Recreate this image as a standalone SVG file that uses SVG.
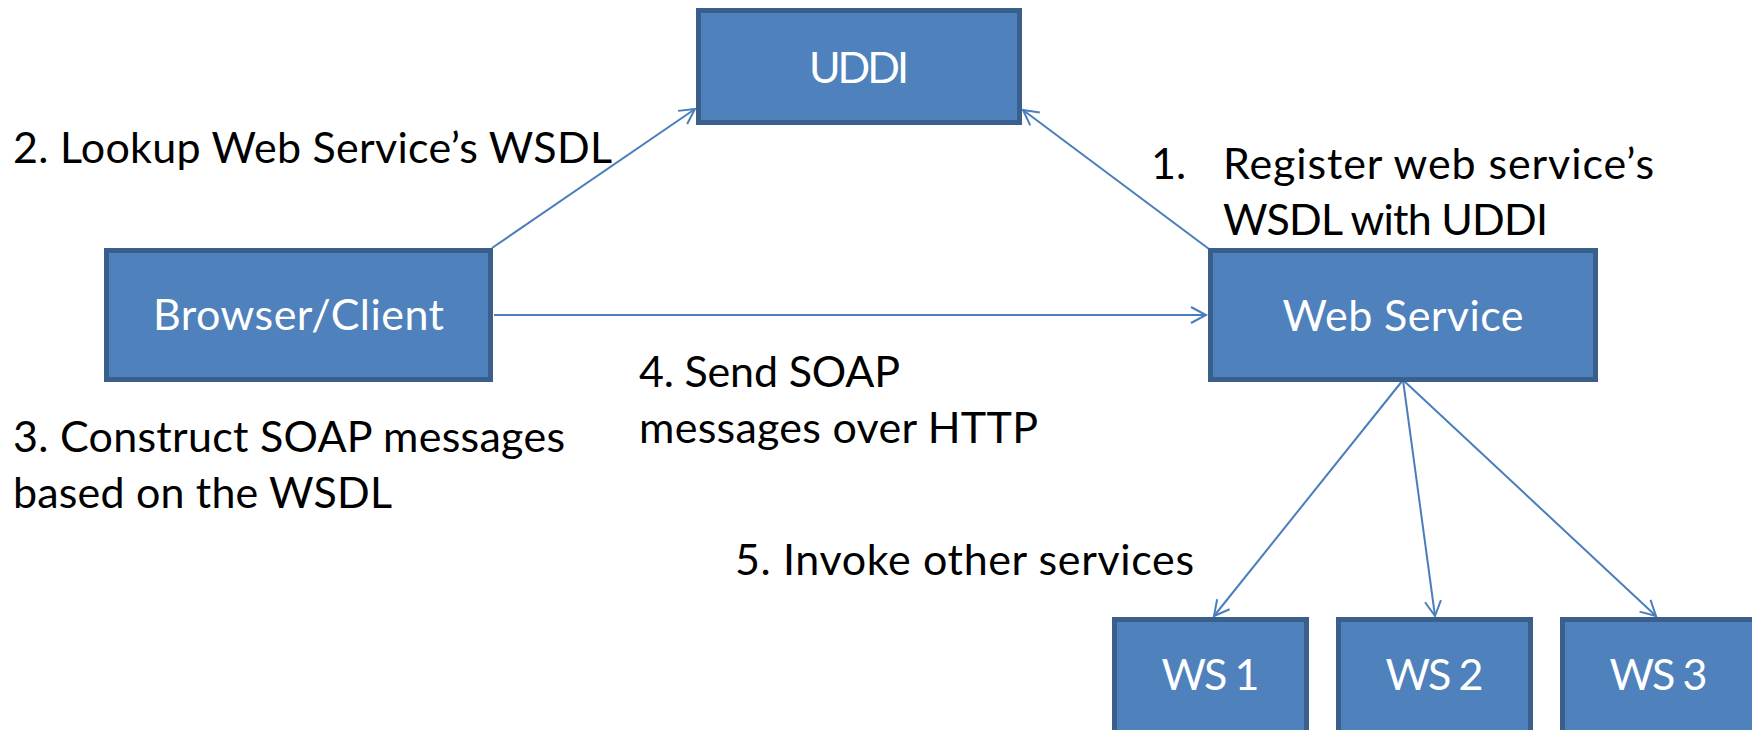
<svg xmlns="http://www.w3.org/2000/svg" width="1752" height="730" viewBox="0 0 1752 730">
  <style>
    .box { fill: #4F81BD; stroke: #3A5F8C; stroke-width: 5; }
    .nlabel { font-family: "Lato", "Liberation Sans", sans-serif; font-size: 43px; fill: #FFFFFF; text-anchor: middle; }
    .label { font-family: "Lato", "Liberation Sans", sans-serif; font-size: 43px; fill: #000000; }
    .link { fill: none; stroke: #4A7EBB; stroke-width: 2; }
  </style>
  <defs>
    <marker id="arrow" markerUnits="userSpaceOnUse" viewBox="-20 -20 40 40" markerWidth="40" markerHeight="40" refX="0" refY="0" orient="auto">
      <path d="M-15,-8 L0,0 L-15,8" fill="none" stroke="#4A7EBB" stroke-width="2"/>
    </marker>
  </defs>

  <rect width="1752" height="730" fill="#FFFFFF"/>

  <!-- connectors -->
  <g id="connectors">
    <line class="link" x1="492" y1="248" x2="695" y2="109" marker-end="url(#arrow)"/>
    <line class="link" x1="1209" y1="249" x2="1023" y2="110" marker-end="url(#arrow)"/>
    <line class="link" x1="494" y1="315" x2="1206" y2="315" marker-end="url(#arrow)"/>
    <line class="link" x1="1403" y1="380" x2="1214" y2="616" marker-end="url(#arrow)"/>
    <line class="link" x1="1403" y1="380" x2="1435" y2="616" marker-end="url(#arrow)"/>
    <line class="link" x1="1403" y1="380" x2="1656" y2="616" marker-end="url(#arrow)"/>
  </g>

  <!-- nodes -->
  <g id="uddi">
    <rect class="box" x="698.5" y="10.5" width="321" height="112"/>
    <text class="nlabel" x="859" y="83" textLength="100" lengthAdjust="spacing">UDDI</text>
  </g>
  <g id="browser-client">
    <rect class="box" x="106.5" y="250.5" width="384" height="129"/>
    <text class="nlabel" x="298.5" y="330" textLength="291" lengthAdjust="spacing">Browser/Client</text>
  </g>
  <g id="web-service">
    <rect class="box" x="1210.5" y="250.5" width="385" height="129"/>
    <text class="nlabel" x="1403" y="331" textLength="241" lengthAdjust="spacing">Web Service</text>
  </g>
  <g id="ws1">
    <rect class="box" x="1114.5" y="619.5" width="192" height="140"/>
    <text class="nlabel" x="1210.5" y="690" textLength="98" lengthAdjust="spacing">WS 1</text>
  </g>
  <g id="ws2">
    <rect class="box" x="1338.5" y="619.5" width="192" height="140"/>
    <text class="nlabel" x="1434.5" y="690" textLength="98" lengthAdjust="spacing">WS 2</text>
  </g>
  <g id="ws3">
    <rect class="box" x="1562.5" y="619.5" width="192" height="140"/>
    <text class="nlabel" x="1658.5" y="690" textLength="98" lengthAdjust="spacing">WS 3</text>
  </g>

  <!-- step labels -->
  <g id="labels">
    <text class="label" x="13" y="163" textLength="599" lengthAdjust="spacing">2. Lookup Web Service’s WSDL</text>
    <text class="label" x="1151" y="179">1.</text>
    <text class="label" x="1223" y="179" textLength="431" lengthAdjust="spacing">Register web service’s</text>
    <text class="label" x="1223" y="235" textLength="325" lengthAdjust="spacing">WSDL with UDDI</text>
    <text class="label" x="13" y="452" textLength="552" lengthAdjust="spacing">3. Construct SOAP messages</text>
    <text class="label" x="13" y="508" textLength="379" lengthAdjust="spacing">based on the WSDL</text>
    <text class="label" x="639" y="387" textLength="261" lengthAdjust="spacing">4. Send SOAP</text>
    <text class="label" x="639" y="443" textLength="399" lengthAdjust="spacing">messages over HTTP</text>
    <text class="label" x="735" y="575" textLength="459" lengthAdjust="spacing">5. Invoke other services</text>
  </g>
</svg>
